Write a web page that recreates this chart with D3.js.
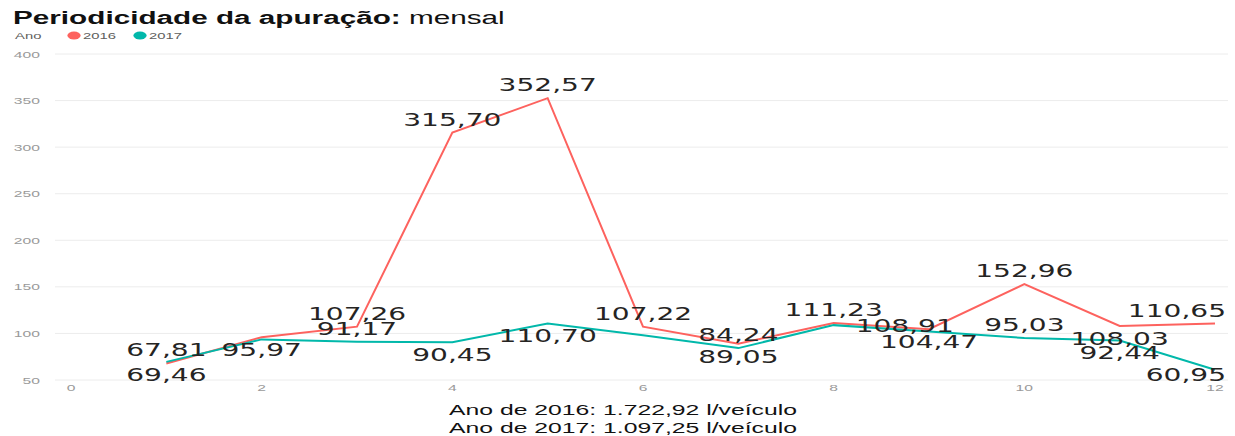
<!DOCTYPE html>
<html>
<head>
<meta charset="utf-8">
<script src="https://cdn.jsdelivr.net/npm/d3@7"></script>
<style>
  html, body { margin: 0; padding: 0; background: #fff; }
  svg { display: block; }
</style>
</head>
<body>
<svg id="chart" width="1235" height="436"></svg>
<script>
// dados
const meses = [1, 2, 3, 4, 5, 6, 7, 8, 9, 10, 11, 12];
const valores2016 = [67.81, 95.97, 107.26, 315.70, 352.57, 107.22, 89.05, 111.23, 104.47, 152.96, 108.03, 110.65];
const valores2017 = [69.46, 93.6, 91.17, 90.45, 110.70, 98.1, 84.24, 108.91, 102.2, 95.03, 92.44, 60.95];
const anos = ["2016", "2017"];
const xTicks = [0, 2, 4, 6, 8, 10, 12];
const yTicks = [50, 100, 150, 200, 250, 300, 350, 400];

// onde fica cada rótulo (acima / abaixo / direita / nenhum)
const rotulos2016 = ["above", "below", "above", "above", "above", "above", "below", "above", "below", "above", "below", "above"];
const rotulos2017 = ["below", "none", "above", "below", "below", "none", "above", "right", "none", "above", "below", "below"];

const cores = ["#FD625E", "#01B8AA"];
const SX = 1.65; // o print original está esticado na horizontal

const ptBR = d3.formatLocale({ decimal: ",", thousands: ".", grouping: [3], currency: ["R$", ""] });
const fmt = ptBR.format(",.2f");

const svg = d3.select("#chart");
const width = 1235, height = 436;

const x = d3.scaleLinear().domain([0, 12]).range([71, 1215]);
const y = d3.scaleLinear().domain([50, 400]).range([380, 54]);
const plotLeft = 55, plotRight = 1228;

// texto esticado
function stext(g, px, py, str, anchor) {
    return g.append("text")
        .attr("transform", `translate(${px},${py}) scale(${SX},1)`)
        .attr("text-anchor", anchor || "start")
        .text(str);
}

// título
const title = svg.append("text")
    .attr("transform", `translate(13,24) scale(${SX},1)`)
    .style("font-family", "'Liberation Sans', Arial, sans-serif")
    .style("font-size", "18px")
    .attr("fill", "#111");
title.append("tspan").style("font-weight", "700").text("Periodicidade da apuração:");
title.append("tspan").style("font-weight", "400").text(" mensal");

// legenda
const legend = svg.append("g")
    .style("font-family", "'Liberation Sans', Arial, sans-serif")
    .style("font-size", "9px")
    .attr("fill", "#605E5C");
stext(legend, 15, 38.5, "Ano");
const legX = [74, 140];
anos.forEach((a, i) => {
    legend.append("ellipse")
        .attr("cx", legX[i]).attr("cy", 35.5)
        .attr("rx", 4 * SX).attr("ry", 4)
        .attr("fill", cores[i]);
    stext(legend, legX[i] + 9, 38.5, a);
});

// grade
svg.append("g")
    .selectAll("line")
    .data(yTicks)
    .join("line")
    .attr("x1", plotLeft).attr("x2", plotRight)
    .attr("y1", d => y(d)).attr("y2", d => y(d))
    .attr("stroke", "#ececec")
    .attr("stroke-width", 1);

// eixos
const axisG = svg.append("g")
    .style("font-family", "'Liberation Sans', Arial, sans-serif")
    .style("font-size", "9.5px")
    .attr("fill", "#9a9a9a");
yTicks.forEach(t => stext(axisG, 40, y(t) + 3.5, d3.format("d")(t), "end"));
xTicks.forEach(t => stext(axisG, x(t), 391, d3.format("d")(t), "middle"));

// linhas
const line = d3.line().x((d, i) => x(meses[i])).y(d => y(d));
[valores2016, valores2017].forEach((serie, i) => {
    svg.append("path")
        .datum(serie)
        .attr("d", line)
        .attr("fill", "none")
        .attr("stroke", cores[i])
        .attr("stroke-width", 2)
        .attr("stroke-linejoin", "miter");
});

// rótulos de dados
const labelsG = svg.append("g")
    .style("font-family", "'DejaVu Sans', sans-serif")
    .style("font-size", "17px")
    .attr("fill", "#252423");

function addLabels(serie, pos) {
    serie.forEach((v, i) => {
        const p = pos[i];
        if (p === "none") return;
        const px = x(meses[i]), py = y(v);
        let ly, anchor = "middle", lx = px;
        if (p === "above") ly = py - 7;
        else if (p === "below") ly = Math.min(py + 19, 381);
        else { ly = py + 6.5; anchor = "start"; lx = px + 22; }
        const t = stext(labelsG, lx, ly, fmt(v), anchor);
        // não deixar passar da borda direita
        const w = t.node().getComputedTextLength() * SX;
        const right = anchor === "middle" ? lx + w / 2 : lx + w;
        if (right > 1226) {
            t.attr("text-anchor", "end")
                .attr("transform", `translate(1226,${ly}) scale(${SX},1)`);
        }
    });
}
addLabels(valores2016, rotulos2016);
addLabels(valores2017, rotulos2017);

// totais
const totG = svg.append("g")
    .style("font-family", "'Liberation Sans', Arial, sans-serif")
    .style("font-size", "15px")
    .attr("fill", "#111");
stext(totG, 623, 415, `Ano de 2016: ${fmt(d3.sum(valores2016))} l/veículo`, "middle");
stext(totG, 623, 433, `Ano de 2017: ${fmt(d3.sum(valores2017))} l/veículo`, "middle");
</script>
</body>
</html>
